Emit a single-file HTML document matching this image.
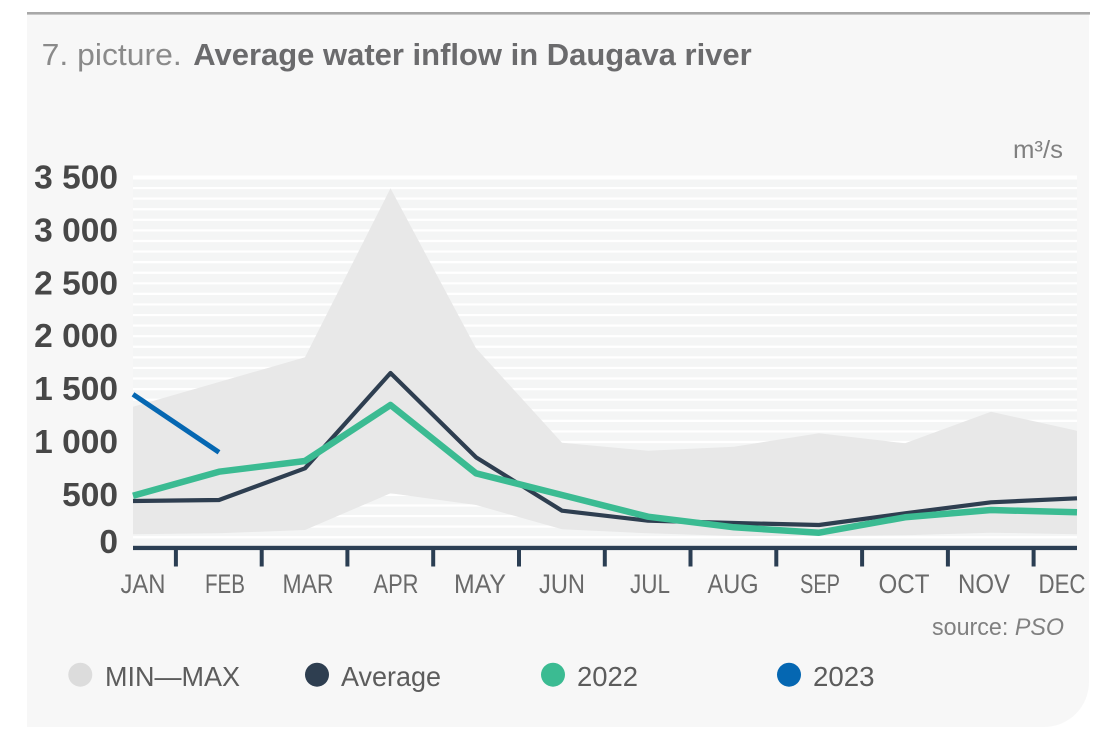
<!DOCTYPE html>
<html>
<head>
<meta charset="utf-8">
<style>
  html, body { margin:0; padding:0; background:#ffffff; }
  body { width:1117px; height:747px; overflow:hidden; }
  svg { display:block; }
  text { font-family: "Liberation Sans", "DejaVu Sans", sans-serif; }
</style>
</head>
<body>
<svg width="1117" height="747" viewBox="0 0 1117 747" xmlns="http://www.w3.org/2000/svg">
  <!-- panel -->
  <path d="M27,13 H1089 V682 A45,45 0 0 1 1044,727 H27 Z" fill="#f7f7f7"/>
  <rect x="27" y="12" width="1063" height="2.6" fill="#a8a8a8"/>

  <!-- title -->
  <text x="41.7" y="65" font-size="31" fill="#8a8a8a" textLength="140" lengthAdjust="spacingAndGlyphs">7. picture.</text>
  <text x="193.3" y="65" font-size="31" font-weight="bold" fill="#6b6b6d" textLength="558.4" lengthAdjust="spacingAndGlyphs">Average water inflow in Daugava river</text>

  <!-- unit -->
  <text x="1013" y="158" font-size="25" fill="#808080" textLength="50" lengthAdjust="spacingAndGlyphs">m³/s</text>

  <!-- plot background -->
  <rect x="133" y="176" width="944" height="372" fill="#f4f5f5"/>

  <!-- gridlines every 100 -->
  <g stroke="#ffffff" stroke-width="2.2">
    <line x1="133" x2="1077" y1="177.5" y2="177.5" stroke-width="4"/>
    <line x1="133" x2="1077" y1="188.08" y2="188.08"/>
    <line x1="133" x2="1077" y1="198.66" y2="198.66"/>
    <line x1="133" x2="1077" y1="209.24" y2="209.24"/>
    <line x1="133" x2="1077" y1="219.82" y2="219.82"/>
    <line x1="133" x2="1077" y1="230.4" y2="230.4"/>
    <line x1="133" x2="1077" y1="240.98" y2="240.98"/>
    <line x1="133" x2="1077" y1="251.56" y2="251.56"/>
    <line x1="133" x2="1077" y1="262.14" y2="262.14"/>
    <line x1="133" x2="1077" y1="272.72" y2="272.72"/>
    <line x1="133" x2="1077" y1="283.3" y2="283.3"/>
    <line x1="133" x2="1077" y1="293.88" y2="293.88"/>
    <line x1="133" x2="1077" y1="304.46" y2="304.46"/>
    <line x1="133" x2="1077" y1="315.04" y2="315.04"/>
    <line x1="133" x2="1077" y1="325.62" y2="325.62"/>
    <line x1="133" x2="1077" y1="336.2" y2="336.2"/>
    <line x1="133" x2="1077" y1="346.78" y2="346.78"/>
    <line x1="133" x2="1077" y1="357.36" y2="357.36"/>
    <line x1="133" x2="1077" y1="367.94" y2="367.94"/>
    <line x1="133" x2="1077" y1="378.52" y2="378.52"/>
    <line x1="133" x2="1077" y1="389.1" y2="389.1"/>
    <line x1="133" x2="1077" y1="399.68" y2="399.68"/>
    <line x1="133" x2="1077" y1="410.26" y2="410.26"/>
    <line x1="133" x2="1077" y1="420.84" y2="420.84"/>
    <line x1="133" x2="1077" y1="431.42" y2="431.42"/>
    <line x1="133" x2="1077" y1="442" y2="442"/>
    <line x1="133" x2="1077" y1="452.58" y2="452.58"/>
    <line x1="133" x2="1077" y1="463.16" y2="463.16"/>
    <line x1="133" x2="1077" y1="473.74" y2="473.74"/>
    <line x1="133" x2="1077" y1="484.32" y2="484.32"/>
    <line x1="133" x2="1077" y1="494.9" y2="494.9"/>
    <line x1="133" x2="1077" y1="505.48" y2="505.48"/>
    <line x1="133" x2="1077" y1="516.06" y2="516.06"/>
    <line x1="133" x2="1077" y1="526.64" y2="526.64"/>
    <line x1="133" x2="1077" y1="537.22" y2="537.22"/>
  </g>

  <!-- min-max band -->
  <polygon fill="#e8e8e8" points="
    133,406.7 219,382 305,357.3 390.5,188.3 476,348.3 562,442.7 648,450.7 734,446.7 819,433.3 905,443.3 991,411.7 1077,430.7
    1077,534.3 991,532.7 905,535.3 819,536 734,536 648,533.3 562,529.3 476,505 390.5,493.3 305,530 219,533.3 133,534.3"/>

  <!-- y labels -->
  <g font-size="33.5" font-weight="bold" fill="#474747" text-anchor="end">
    <text x="118" y="188.5">3 500</text>
    <text x="118" y="241.4">3 000</text>
    <text x="118" y="294.3">2 500</text>
    <text x="118" y="347.2">2 000</text>
    <text x="118" y="400.1">1 500</text>
    <text x="118" y="452.9">1 000</text>
    <text x="118" y="505.8">500</text>
    <text x="118" y="553">0</text>
  </g>

  <!-- average -->
  <polyline fill="none" stroke="#2e3e50" stroke-width="4.2" stroke-linejoin="round" stroke-linecap="butt"
    points="133,501 219,500 305,468.3 390.5,373 476,457.3 562,510.7 648,520.7 734,523 819,525 905,513.3 991,502.3 1077,498.3"/>
  <!-- 2022 -->
  <polyline fill="none" stroke="#3bbb92" stroke-width="6.5" stroke-linejoin="round" stroke-linecap="butt"
    points="133,495.7 219,471.7 305,461 390.5,405 476,473.3 562,495 648,516.7 734,527.3 819,532.7 905,517.3 991,510 1077,512.3"/>
  <!-- 2023 -->
  <polyline fill="none" stroke="#0567b2" stroke-width="5" stroke-linejoin="round" stroke-linecap="butt"
    points="133,394.3 219,452.3"/>

  <!-- x axis -->
  <rect x="133" y="545.8" width="944" height="4.3" fill="#2b3e53"/>
  <g stroke="#2b3e53" stroke-width="4">
    <line x1="175.9" x2="175.9" y1="548" y2="566.5"/>
    <line x1="261.7" x2="261.7" y1="548" y2="566.5"/>
    <line x1="347.4" x2="347.4" y1="548" y2="566.5"/>
    <line x1="433.2" x2="433.2" y1="548" y2="566.5"/>
    <line x1="519" x2="519" y1="548" y2="566.5"/>
    <line x1="604.8" x2="604.8" y1="548" y2="566.5"/>
    <line x1="690.5" x2="690.5" y1="548" y2="566.5"/>
    <line x1="776.3" x2="776.3" y1="548" y2="566.5"/>
    <line x1="862.1" x2="862.1" y1="548" y2="566.5"/>
    <line x1="947.9" x2="947.9" y1="548" y2="566.5"/>
    <line x1="1033.6" x2="1033.6" y1="548" y2="566.5"/>
  </g>

  <!-- month labels -->
  <g font-size="27" fill="#6a6a6a" text-anchor="middle">
    <text x="143" y="593" textLength="45" lengthAdjust="spacingAndGlyphs">JAN</text>
    <text x="225" y="593" textLength="40" lengthAdjust="spacingAndGlyphs">FEB</text>
    <text x="308" y="593" textLength="51" lengthAdjust="spacingAndGlyphs">MAR</text>
    <text x="396" y="593" textLength="45" lengthAdjust="spacingAndGlyphs">APR</text>
    <text x="480" y="593" textLength="52" lengthAdjust="spacingAndGlyphs">MAY</text>
    <text x="562" y="593" textLength="46" lengthAdjust="spacingAndGlyphs">JUN</text>
    <text x="650" y="593" textLength="40" lengthAdjust="spacingAndGlyphs">JUL</text>
    <text x="733" y="593" textLength="51" lengthAdjust="spacingAndGlyphs">AUG</text>
    <text x="820" y="593" textLength="40" lengthAdjust="spacingAndGlyphs">SEP</text>
    <text x="904" y="593" textLength="51" lengthAdjust="spacingAndGlyphs">OCT</text>
    <text x="984" y="593" textLength="52" lengthAdjust="spacingAndGlyphs">NOV</text>
    <text x="1062" y="593" textLength="47" lengthAdjust="spacingAndGlyphs">DEC</text>
  </g>

  <!-- source -->
  <text x="932" y="635" font-size="24" fill="#808080" textLength="132" lengthAdjust="spacingAndGlyphs">source: <tspan font-style="italic">PSO</tspan></text>

  <!-- legend -->
  <circle cx="80.3" cy="674.7" r="12" fill="#dcdcdc"/>
  <text x="105" y="686" font-size="28" fill="#5c5c5c" textLength="135" lengthAdjust="spacingAndGlyphs">MIN—MAX</text>
  <circle cx="317" cy="674.7" r="12" fill="#2e3e50"/>
  <text x="341" y="686" font-size="28" fill="#5c5c5c" textLength="100" lengthAdjust="spacingAndGlyphs">Average</text>
  <circle cx="553" cy="674.7" r="12" fill="#3bbb92"/>
  <text x="577" y="686" font-size="28" fill="#5c5c5c" textLength="61" lengthAdjust="spacingAndGlyphs">2022</text>
  <circle cx="789" cy="674.7" r="12" fill="#0567b2"/>
  <text x="813" y="686" font-size="28" fill="#5c5c5c" textLength="61.5" lengthAdjust="spacingAndGlyphs">2023</text>
</svg>
</body>
</html>
